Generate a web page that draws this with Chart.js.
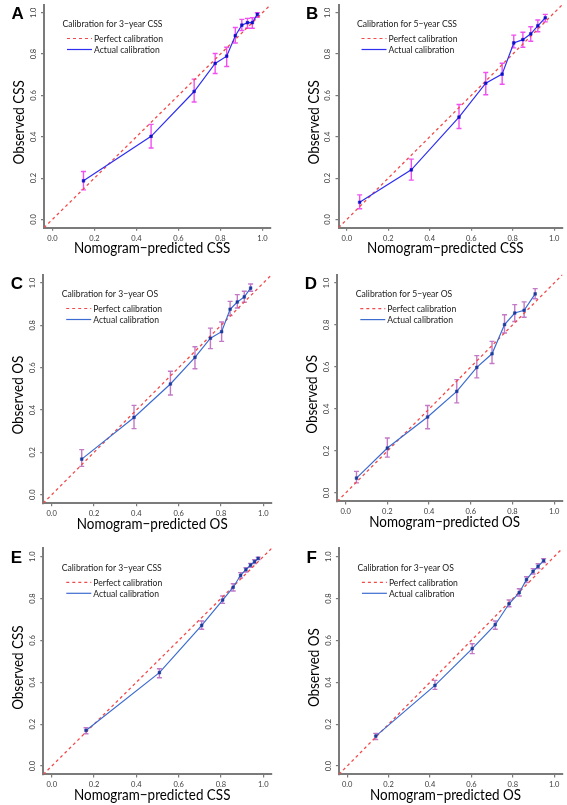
<!DOCTYPE html>
<html lang="en">
<head>
  <meta charset="UTF-8">
  <title>Calibration curves</title>
  <script src="https://cdn.jsdelivr.net/npm/chart.js"></script>
  <style>
    body {
      margin: 0;
      background: #fff;
    }
    #wrap {
      position: relative;
      width: 567px;
      height: 805px;
    }
    #wrap canvas {
      position: absolute;
    }
  </style>
</head>
<body>
  <div id="wrap"></div>

  <script>
    // axis range as R draws it (0..1 plus 4% each side) and tick values
    const AXIS_MIN = -0.04;
    const AXIS_MAX = 1.04;
    const TICKS = [0, 0.2, 0.4, 0.6, 0.8, 1.0];

    // A: 3-year CSS
    const A_PRED = [0.148, 0.470, 0.675, 0.775, 0.830, 0.871, 0.902, 0.929, 0.952, 0.976];
    const A_OBS  = [0.187, 0.402, 0.619, 0.755, 0.790, 0.889, 0.940, 0.952, 0.952, 0.992];
    const A_LO   = [0.143, 0.346, 0.568, 0.706, 0.740, 0.854, 0.914, 0.925, 0.925, 0.978];
    const A_HI   = [0.232, 0.460, 0.679, 0.803, 0.833, 0.929, 0.968, 0.973, 0.976, 1.000];

    // B: 5-year CSS
    const B_PRED = [0.062, 0.311, 0.541, 0.670, 0.749, 0.805, 0.849, 0.887, 0.921, 0.957];
    const B_OBS  = [0.083, 0.240, 0.495, 0.659, 0.703, 0.854, 0.870, 0.898, 0.937, 0.976];
    const B_LO   = [0.052, 0.190, 0.440, 0.603, 0.654, 0.830, 0.833, 0.862, 0.908, 0.956];
    const B_HI   = [0.119, 0.292, 0.556, 0.711, 0.756, 0.892, 0.906, 0.932, 0.965, 0.992];

    // C: 3-year OS
    const C_PRED = [0.142, 0.389, 0.561, 0.677, 0.750, 0.803, 0.843, 0.877, 0.910, 0.940];
    const C_OBS  = [0.168, 0.365, 0.523, 0.649, 0.739, 0.770, 0.876, 0.910, 0.934, 0.976];
    const C_LO   = [0.134, 0.312, 0.471, 0.595, 0.690, 0.724, 0.846, 0.882, 0.909, 0.961];
    const C_HI   = [0.213, 0.422, 0.583, 0.699, 0.787, 0.816, 0.913, 0.945, 0.961, 0.995];

    // D: 5-year OS
    const D_PRED = [0.052, 0.200, 0.393, 0.533, 0.629, 0.702, 0.762, 0.811, 0.856, 0.909];
    const D_OBS  = [0.071, 0.214, 0.362, 0.484, 0.598, 0.663, 0.802, 0.857, 0.870, 0.948];
    const D_LO   = [0.048, 0.171, 0.306, 0.429, 0.548, 0.617, 0.762, 0.817, 0.837, 0.925];
    const D_HI   = [0.103, 0.262, 0.417, 0.540, 0.654, 0.722, 0.849, 0.897, 0.910, 0.973];

    // E: 3-year CSS (validation)
    const E_PRED = [0.162, 0.509, 0.709, 0.808, 0.858, 0.893, 0.918, 0.940, 0.959, 0.976];
    const E_OBS  = [0.170, 0.446, 0.672, 0.793, 0.854, 0.911, 0.938, 0.960, 0.976, 0.992];
    const E_LO   = [0.154, 0.422, 0.653, 0.777, 0.836, 0.898, 0.927, 0.949, 0.967, 0.986];
    const E_HI   = [0.183, 0.465, 0.693, 0.812, 0.871, 0.924, 0.947, 0.968, 0.985, 0.998];

    // F: 3-year OS (validation)
    const F_PRED = [0.138, 0.424, 0.604, 0.715, 0.782, 0.831, 0.866, 0.898, 0.922, 0.949];
    const F_OBS  = [0.143, 0.385, 0.561, 0.675, 0.775, 0.828, 0.890, 0.930, 0.954, 0.981];
    const F_LO   = [0.127, 0.366, 0.537, 0.653, 0.761, 0.812, 0.876, 0.917, 0.943, 0.972];
    const F_HI   = [0.156, 0.409, 0.584, 0.693, 0.793, 0.847, 0.904, 0.943, 0.966, 0.990];

    const RED = '#f24a4a';
    const AXIS = '#7b7b7b';
    const FONT = 'Lato, "Liberation Sans", sans-serif';

    // bright palette for A/B, softer one for C-F
    const BRIGHT = { line: '#2f2ff2', point: '#1010c8', err: '#f050f0' };
    const SOFT = { line: '#3c6cd0', point: '#1c3c9c', err: '#c37ac6' };

    // box = canvas position/size in the page, area = plot area inside the canvas
    const PANELS = [
      { letter: 'A', box: [0, 0, 283, 268], area: [44.0, 0.9, 270.8, 227.7], what: 'CSS', title: 'Calibration for 3\u2212year CSS',
        pred: A_PRED, obs: A_OBS, lo: A_LO, hi: A_HI, pal: BRIGHT },
      { letter: 'B', box: [283, 0, 284, 268], area: [55.5, 0.9, 282.3, 227.7], what: 'CSS', title: 'Calibration for 5\u2212year CSS',
        pred: B_PRED, obs: B_OBS, lo: B_LO, hi: B_HI, pal: BRIGHT },
      { letter: 'C', box: [0, 268, 283, 268], area: [43.2, 6.5, 271.8, 235.2], what: 'OS', title: 'Calibration for 3\u2212year OS',
        pred: C_PRED, obs: C_OBS, lo: C_LO, hi: C_HI, pal: SOFT },
      { letter: 'D', box: [283, 268, 284, 268], area: [54.3, 6.6, 282.4, 233.4], what: 'OS', title: 'Calibration for 5\u2212year OS',
        pred: D_PRED, obs: D_OBS, lo: D_LO, hi: D_HI, pal: SOFT },
      { letter: 'E', box: [0, 536, 283, 269], area: [43.3, 12.3, 271.7, 238.4], what: 'CSS', title: 'Calibration for 3\u2212year CSS',
        pred: E_PRED, obs: E_OBS, lo: E_LO, hi: E_HI, pal: SOFT },
      { letter: 'F', box: [283, 536, 284, 269], area: [55.9, 12.3, 282.4, 238.4], what: 'OS', title: 'Calibration for 3\u2212year OS',
        pred: F_PRED, obs: F_OBS, lo: F_LO, hi: F_HI, pal: SOFT }
    ];

    // the original uses a condensed face; squeeze Lato horizontally instead
    function narrowText(ctx, text, x, y, sx, angle) {
      ctx.save();
      ctx.translate(x, y);
      if (angle) ctx.rotate(angle);
      ctx.scale(sx, 1);
      ctx.fillText(text, 0, 0);
      ctx.restore();
    }

    // error bars, panel letter, rotated y labels, axis titles and legend
    const extras = {
      id: 'extras',
      beforeDatasetsDraw(chart, args, o) {
        const { ctx } = chart;
        const xs = chart.scales.x, ys = chart.scales.y;
        ctx.save();
        ctx.strokeStyle = o.pal.err;
        ctx.lineWidth = 1.4;
        o.pred.forEach((p, i) => {
          const x = xs.getPixelForValue(p);
          const y1 = ys.getPixelForValue(o.lo[i]);
          const y2 = ys.getPixelForValue(o.hi[i]);
          ctx.beginPath();
          ctx.moveTo(x, y1); ctx.lineTo(x, y2);
          ctx.moveTo(x - 2.5, y1); ctx.lineTo(x + 2.5, y1);
          ctx.moveTo(x - 2.5, y2); ctx.lineTo(x + 2.5, y2);
          ctx.stroke();
        });
        ctx.restore();
      },
      afterDraw(chart, args, o) {
        const { ctx, chartArea: a } = chart;
        const xs = chart.scales.x, ys = chart.scales.y;
        ctx.save();

        // panel letter
        ctx.fillStyle = '#000';
        ctx.font = 'bold 17px "Liberation Sans", Arial, sans-serif';
        ctx.textAlign = 'left';
        ctx.textBaseline = 'alphabetic';
        ctx.fillText(o.letter, a.left - 32.5, a.top + 14.2);

        // y tick labels, rotated like R's las = 0
        ctx.fillStyle = '#3a3a3a';
        ctx.font = '7.5px ' + FONT;
        ctx.textAlign = 'center';
        ctx.textBaseline = 'middle';
        TICKS.forEach(t => {
          narrowText(ctx, t.toFixed(1), a.left - 10.5, ys.getPixelForValue(t), 1, -Math.PI / 2);
        });

        // axis titles
        ctx.fillStyle = '#000';
        ctx.font = '16px ' + FONT;
        narrowText(ctx, 'Nomogram\u2212predicted ' + o.what, xs.getPixelForValue(0.475), a.bottom + 20.3, 0.84);
        narrowText(ctx, 'Observed ' + o.what, a.left - 25, ys.getPixelForValue(0.47), 0.84, -Math.PI / 2);

        // legend
        ctx.font = '10px ' + FONT;
        ctx.fillStyle = '#1a1a1a';
        ctx.textAlign = 'left';
        narrowText(ctx, o.title, a.left + 18.5, a.top + 19.5, 0.86);
        narrowText(ctx, 'Perfect calibration', a.left + 50, a.top + 34, 0.86);
        narrowText(ctx, 'Actual calibration', a.left + 50, a.top + 45, 0.86);
        ctx.lineWidth = 1.2;
        ctx.strokeStyle = RED;
        ctx.setLineDash([3, 3]);
        ctx.beginPath();
        ctx.moveTo(a.left + 23, a.top + 34); ctx.lineTo(a.left + 48, a.top + 34);
        ctx.stroke();
        ctx.setLineDash([]);
        ctx.strokeStyle = o.pal.line;
        ctx.beginPath();
        ctx.moveTo(a.left + 23, a.top + 45); ctx.lineTo(a.left + 48, a.top + 45);
        ctx.stroke();

        ctx.restore();
      }
    };

    const wrap = document.getElementById('wrap');

    PANELS.forEach(p => {
      const [bx, by, bw, bh] = p.box;
      const [l, t, r, b] = p.area;
      const canvas = document.createElement('canvas');
      canvas.width = bw;
      canvas.height = bh;
      canvas.style.left = bx + 'px';
      canvas.style.top = by + 'px';
      canvas.style.width = bw + 'px';
      canvas.style.height = bh + 'px';
      wrap.appendChild(canvas);

      const axisOpts = {
        type: 'linear',
        min: AXIS_MIN,
        max: AXIS_MAX,
        afterBuildTicks: s => { s.ticks = TICKS.map(v => ({ value: v })); },
        border: { display: true, color: AXIS, width: 2 },
        grid: { display: true, drawOnChartArea: false, drawTicks: true, tickLength: 3, color: AXIS, lineWidth: 1.2 }
      };

      new Chart(canvas.getContext('2d'), {
        type: 'line',
        data: {
          datasets: [
            {
              label: 'Perfect calibration',
              data: [{ x: AXIS_MIN, y: AXIS_MIN }, { x: AXIS_MAX, y: AXIS_MAX }],
              borderColor: RED,
              borderWidth: 1.3,
              borderDash: [3, 3],
              pointRadius: 0,
              order: 2
            },
            {
              label: 'Actual calibration',
              data: p.pred.map((x, i) => ({ x: x, y: p.obs[i] })),
              borderColor: p.pal.line,
              borderWidth: 1.2,
              pointStyle: 'rect',
              pointRadius: 1.9,
              pointBackgroundColor: p.pal.point,
              pointBorderColor: p.pal.point,
              pointBorderWidth: 0.5,
              tension: 0,
              order: 1
            }
          ]
        },
        options: {
          responsive: false,
          animation: false,
          events: [],
          layout: { padding: { top: t, right: bw - r, left: 0, bottom: 0 } },
          plugins: {
            legend: { display: false },
            tooltip: { enabled: false },
            extras: {
              letter: p.letter, what: p.what, title: p.title,
              pred: p.pred, lo: p.lo, hi: p.hi, pal: p.pal
            }
          },
          scales: {
            x: Object.assign({}, axisOpts, {
              position: 'bottom',
              afterFit: s => { s.height = bh - b; },
              ticks: {
                color: '#3a3a3a',
                font: { family: FONT, size: 7.5 },
                padding: 3,
                maxRotation: 0,
                callback: v => v.toFixed(1)
              }
            }),
            y: Object.assign({}, axisOpts, {
              position: 'left',
              afterFit: s => { s.width = l; },
              ticks: { display: false }
            })
          }
        },
        plugins: [extras]
      });
    });
  </script>
</body>
</html>
